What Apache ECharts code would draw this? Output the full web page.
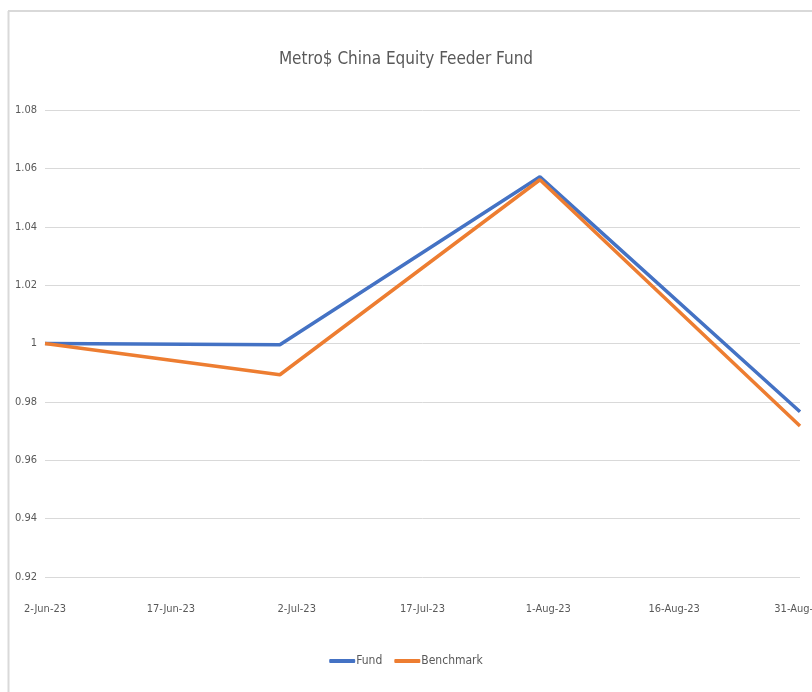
<!DOCTYPE html>
<html>
<head>
<meta charset="utf-8">
<script src="https://cdn.jsdelivr.net/npm/echarts@6/dist/echarts.min.js"></script>
<style>
html,body{margin:0;padding:0;background:#fff;}
#chart{width:812px;height:692px;}
</style>
</head>
<body>
<div id="chart"></div>
<script>
var dates = ['2023-06-02', '2023-06-30', '2023-07-31', '2023-08-31'];
var fund = [1.0, 0.9996, 1.0571, 0.9766];
var benchmark = [1.0, 0.9893, 1.0561, 0.9717];
var startDate = '2023-06-02';
var endDate = '2023-08-31';
var months = ['Jan','Feb','Mar','Apr','May','Jun','Jul','Aug','Sep','Oct','Nov','Dec'];

var DAY = 86400000;
function dayOffset(s){ return Math.round((Date.parse(s + 'T00:00:00Z') - Date.parse(startDate + 'T00:00:00Z')) / DAY); }
function fmtDay(off){
  var d = new Date(Date.parse(startDate + 'T00:00:00Z') + off * DAY);
  return d.getUTCDate() + '-' + months[d.getUTCMonth()] + '-' + String(d.getUTCFullYear()).slice(2);
}
var FONT = '"Liberation Sans Narrow", "DejaVu Sans Condensed", sans-serif';
var chart = echarts.init(document.getElementById('chart'));
chart.setOption({
  animation: false,
  backgroundColor: '#fff',
  title: {
    text: 'Metro$ China Equity Feeder Fund',
    left: 'center', top: 46,
    textStyle: { fontFamily: FONT, fontSize: 17, fontWeight: 'normal', color: '#595959' }
  },
  graphic: [
    { type: 'line', shape: { x1: 8.5, y1: 11, x2: 8.5, y2: 692 }, style: { stroke: '#d9d9d9', lineWidth: 2 }, silent: true },
    { type: 'line', shape: { x1: 8, y1: 11, x2: 812, y2: 11 }, style: { stroke: '#d9d9d9', lineWidth: 2 }, silent: true }
  ],
  legend: {
    bottom: 20, left: 'center',
    itemWidth: 26, itemHeight: 4, itemGap: 12,
    icon: 'roundRect',
    textStyle: { fontFamily: FONT, fontSize: 12, color: '#595959', padding: [0,0,0,-4] },
    data: ['Fund', 'Benchmark']
  },
  grid: { left: 45, right: 12, top: 110, bottom: 115, outerBoundsMode: 'none', containLabel: false },
  xAxis: {
    type: 'value',
    min: 0, max: dayOffset(endDate), interval: 15,
    axisLine: { show: false },
    axisTick: { show: false },
    splitLine: { show: false },
    axisLabel: { formatter: fmtDay, fontFamily: FONT, fontSize: 11, color: '#595959', margin: 27 }
  },
  yAxis: {
    type: 'value',
    min: 0.92, max: 1.08, interval: 0.02,
    axisLine: { show: false },
    axisTick: { show: false },
    splitLine: { lineStyle: { color: '#d9d9d9', width: 1 } },
    axisLabel: { formatter: function(v){ return String(parseFloat(v.toFixed(2))); }, fontFamily: FONT, fontSize: 11, color: '#595959', margin: 8 }
  },
  series: [
    { name: 'Fund', type: 'line', symbol: 'none', color: '#4472C4',
      lineStyle: { width: 3.5, color: '#4472C4' },
      data: dates.map(function(d,i){ return [dayOffset(d), fund[i]]; }) },
    { name: 'Benchmark', type: 'line', symbol: 'none', color: '#ED7D31',
      lineStyle: { width: 3.5, color: '#ED7D31' },
      data: dates.map(function(d,i){ return [dayOffset(d), benchmark[i]]; }) }
  ]
});
</script>
</body>
</html>
